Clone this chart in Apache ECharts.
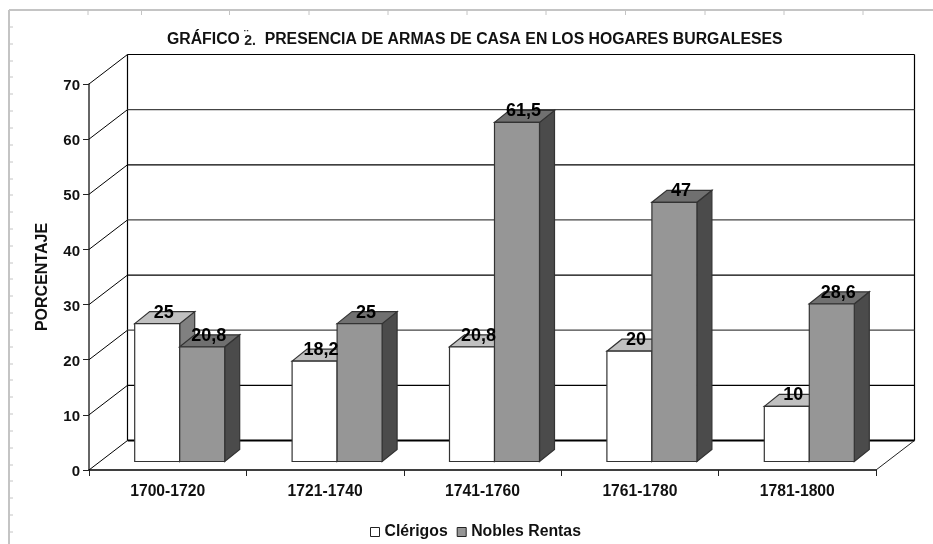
<!DOCTYPE html>
<html>
<head>
<meta charset="utf-8">
<title>Armas de casa</title>
<script src="https://cdn.jsdelivr.net/npm/echarts@6/dist/echarts.min.js"></script>
<style>
  html, body { margin: 0; padding: 0; background: #fff; }
  #chart { width: 933px; height: 544px; }
</style>
</head>
<body>
<div id="chart"></div>
<script>
var periods = ["1700-1720", "1721-1740", "1741-1760", "1761-1780", "1781-1800"];
var clerigos = [25, 18.2, 20.8, 20, 10];
var nobles = [20.8, 25, 61.5, 47, 28.6];
var yTicks = [0, 10, 20, 30, 40, 50, 60, 70];
var rulerTop = [88, 141.5, 229.5, 309, 388, 467, 546, 625.5, 705, 784, 863];
var rulerLeft = [27, 44, 61, 77, 94, 111, 128, 145, 162, 179, 195, 212, 229, 246, 263,
  279, 296, 313, 330, 347, 364, 380, 397, 414, 431, 448, 465, 481, 498, 515, 532];

var FONT = "'Liberation Sans', Arial, sans-serif";
var WALL_DX = 38.5, WALL_DY = -29.5;   // fondo de la caja 3D
var BAR_W = 45, BAR_DX = 15, BAR_DY = -12;
var BAR_SHIFT_X = 12, BAR_SHIFT_Y = -8.5;  // barras separadas del plano frontal

function line(x1, y1, x2, y2, color, width) {
  return {
    type: "line",
    shape: { x1: x1, y1: y1, x2: x2, y2: y2 },
    style: { stroke: color, lineWidth: width, fill: null }
  };
}

function poly(points, fill, stroke) {
  return {
    type: "polygon",
    shape: { points: points },
    style: { fill: fill, stroke: stroke, lineWidth: 1.2 }
  };
}

function renderWall(params, api) {
  var cs = params.coordSys;
  var v = api.value(1);
  var y = api.coord([0, v])[1];
  var backY = y + WALL_DY;
  var left = cs.x, right = cs.x + cs.width;
  var color = (v === 20 || v === 40 || v === 60) ? "#444" : "#000";
  var children = [
    line(left, y, left + WALL_DX, backY, "#000", 1),
    line(left + WALL_DX, backY, right + WALL_DX, backY, color, v === 0 ? 2 : 1.2)
  ];
  if (v === 0) {
    children.push(line(right, y, right + WALL_DX, backY, "#222", 1));
    var topY = api.coord([0, yTicks[yTicks.length - 1]])[1] + WALL_DY;
    children.push(line(left + WALL_DX, topY, left + WALL_DX, backY, "#000", 1.2));
    children.push(line(right + WALL_DX, topY, right + WALL_DX, backY, "#000", 1.2));
  }
  return { type: "group", children: children };
}

function barRenderer(side, front, sideColor, topColor, edge) {
  return function (params, api) {
    var i = api.value(0), v = api.value(1);
    var p = api.coord([i, v]);
    var base = api.coord([i, 0]);
    var cx = p[0] + BAR_SHIFT_X;
    var x0 = side < 0 ? cx - BAR_W : cx;
    var x1 = x0 + BAR_W;
    var yTop = p[1] + BAR_SHIFT_Y;
    var yBase = base[1] + BAR_SHIFT_Y;
    return {
      type: "group",
      children: [
        poly([[x1, yTop], [x1 + BAR_DX, yTop + BAR_DY], [x1 + BAR_DX, yBase + BAR_DY], [x1, yBase]], sideColor, edge),
        poly([[x0, yTop], [x0 + BAR_DX, yTop + BAR_DY], [x1 + BAR_DX, yTop + BAR_DY], [x1, yTop]], topColor, edge),
        poly([[x0, yTop], [x1, yTop], [x1, yBase], [x0, yBase]], front, edge),
        {
          type: "text",
          z2: 100,
          style: {
            x: (x0 + x1) / 2 + 6.5,
            y: yTop - 11,
            text: String(v).replace(".", ","),
            align: "center",
            verticalAlign: "middle",
            font: "bold 18px " + FONT,
            fill: "#000"
          }
        }
      ]
    };
  };
}

function pairs(values) {
  return values.map(function (v, i) { return [i, v]; });
}

var frame = [
  { type: "line", shape: { x1: 9, y1: 10, x2: 933, y2: 10 }, style: { stroke: "#c4c4c4", lineWidth: 2 } },
  { type: "line", shape: { x1: 9, y1: 10, x2: 9, y2: 544 }, style: { stroke: "#c4c4c4", lineWidth: 2 } },
  // el signo sobre el numero del titulo
  { type: "text", x: 244, y: 29, style: { text: "¨", font: "bold 13px " + FONT, fill: "#333" } }
];
rulerTop.forEach(function (x) {
  frame.push({ type: "line", shape: { x1: x, y1: 10, x2: x, y2: 15 }, style: { stroke: "#c4c4c4", lineWidth: 1 } });
});
rulerLeft.forEach(function (y) {
  frame.push({ type: "line", shape: { x1: 9, y1: y, x2: 13, y2: y }, style: { stroke: "#c4c4c4", lineWidth: 1 } });
});

var chart = echarts.init(document.getElementById("chart"), null, { renderer: "canvas" });
chart.setOption({
  animation: false,
  backgroundColor: "#fff",
  textStyle: { fontFamily: FONT },
  graphic: frame,
  title: {
    left: 162,
    top: 26,
    text: "GRÁFICO {s|2.}  PRESENCIA DE ARMAS DE CASA EN LOS HOGARES BURGALESES",
    textStyle: {
      fontFamily: FONT,
      fontWeight: "bold",
      fontSize: 15.8,
      color: "#111",
      rich: { s: { fontFamily: FONT, fontWeight: "bold", fontSize: 14, color: "#222", padding: [3, 0, 0, 0] } }
    }
  },
  legend: {
    left: 365,
    top: 519,
    itemWidth: 9,
    itemHeight: 9,
    itemGap: 9,
    icon: "rect",
    data: ["Clérigos", "Nobles Rentas"],
    itemStyle: { borderWidth: 1 },
    textStyle: { fontFamily: FONT, fontWeight: "bold", fontSize: 15.8, color: "#111" }
  },
  grid: { left: 89, right: 57, top: 84, bottom: 74 },
  xAxis: {
    type: "category",
    data: periods,
    axisLine: { lineStyle: { color: "#000", width: 1.5 } },
    axisTick: { show: true, length: 6, lineStyle: { color: "#222", width: 1 } },
    axisLabel: { fontFamily: FONT, fontWeight: "bold", fontSize: 15.7, color: "#111", margin: 14 }
  },
  yAxis: {
    type: "value",
    min: 0,
    max: 70,
    interval: 10,
    name: "PORCENTAJE",
    nameLocation: "middle",
    nameGap: 38,
    nameRotate: 90,
    nameTextStyle: { fontFamily: FONT, fontWeight: "bold", fontSize: 16, color: "#111" },
    axisLine: { show: true, lineStyle: { color: "#333", width: 1.5 } },
    axisTick: { show: true, length: 6, lineStyle: { color: "#222", width: 1 } },
    axisLabel: {
      margin: 9,
      formatter: "{a|{value}}",
      rich: { a: { fontFamily: FONT, fontWeight: "bold", fontSize: 15, color: "#111", padding: [4, 0, 0, 0] } }
    },
    splitLine: { show: false }
  },
  series: [
    {
      name: "pared",
      type: "custom",
      z: 1,
      silent: true,
      renderItem: renderWall,
      data: yTicks.map(function (v) { return [0, v]; })
    },
    {
      name: "Clérigos",
      type: "custom",
      z: 2,
      itemStyle: { color: "#fff", borderColor: "#222", borderWidth: 1 },
      renderItem: barRenderer(-1, "#ffffff", "#808080", "#c0c0c0", "#333"),
      data: pairs(clerigos)
    },
    {
      name: "Nobles Rentas",
      type: "custom",
      z: 2,
      itemStyle: { color: "#969696", borderColor: "#222", borderWidth: 1 },
      renderItem: barRenderer(1, "#969696", "#4b4b4b", "#707070", "#333"),
      data: pairs(nobles)
    }
  ]
});
</script>
</body>
</html>
